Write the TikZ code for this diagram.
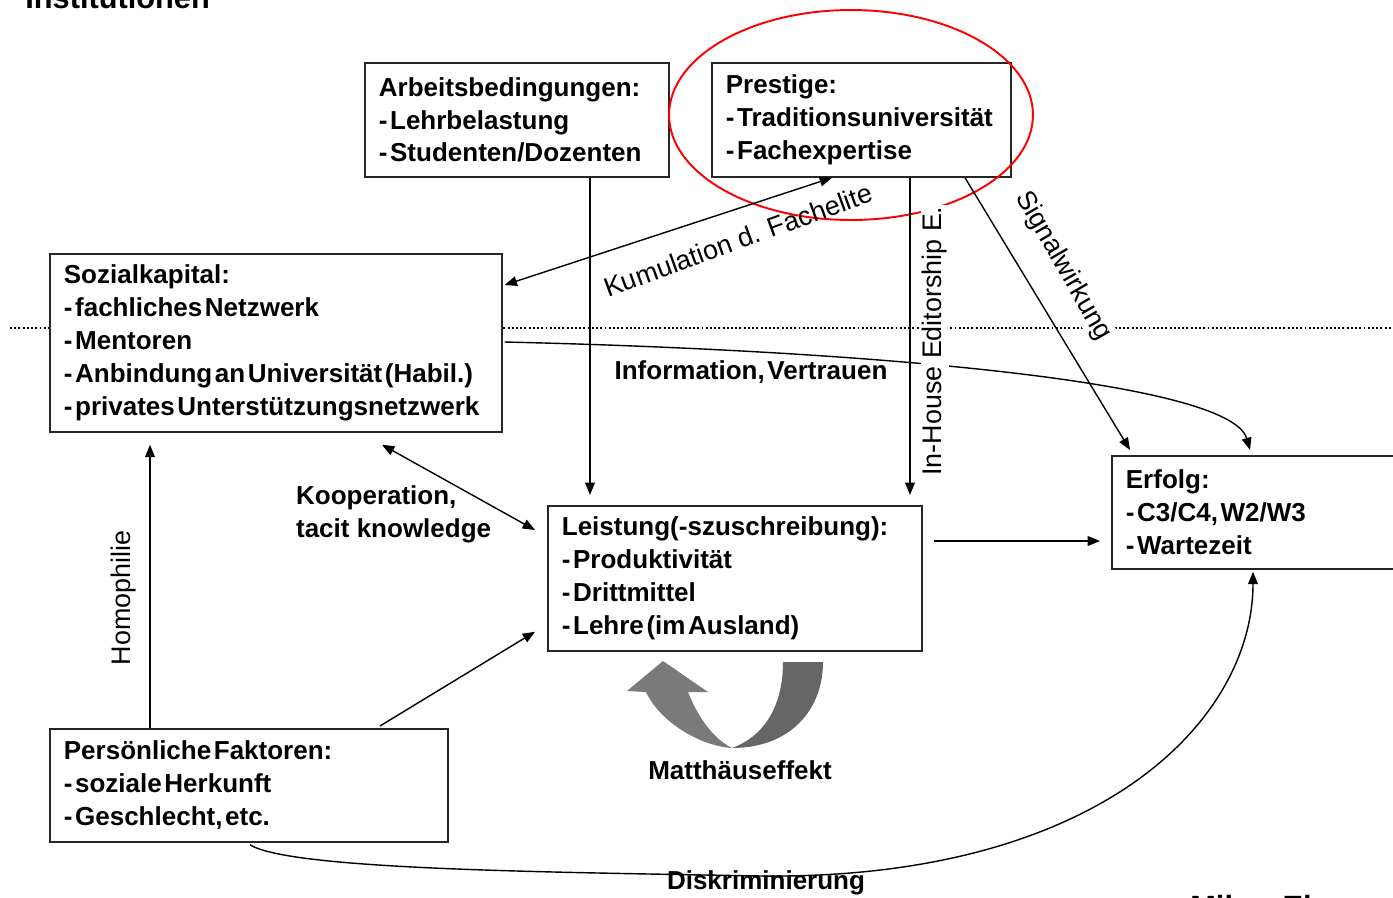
\documentclass[tikz,border=0pt]{standalone}
\usepackage{fontspec}
\setmainfont{Liberation Sans}
\usetikzlibrary{arrows.meta,calc}
\newcommand\bxfont{\fontsize{14.8}{18.7}\selectfont\bfseries}
\newcommand\lblfont{\fontsize{15.3}{18.7}\selectfont}
\newcommand\tsp{\spaceskip=0.1em plus 0.03em\relax\hyphenpenalty=10000\relax}
\newcommand\bxline[1]{\mbox{#1}}
\tikzset{
  box/.style={draw=black!85, line width=1pt, fill=white, anchor=north west, align=left,
              inner xsep=0.28cm, inner ysep=0pt, font=\bxfont},
  arr/.style={line width=0.8pt, -{Triangle[length=7pt,width=5.5pt]}},
  darr/.style={line width=0.8pt, {Triangle[length=7pt,width=5.5pt]}-{Triangle[length=7pt,width=5.5pt]}},
  lbl/.style={font=\lblfont, inner sep=1pt},
  blbl/.style={font=\bxfont, inner sep=1pt},
  dotline/.style={line width=1pt, dash pattern=on 1.1pt off 1.3pt},
}
\begin{document}
\begin{tikzpicture}[x=0.02cm, y=-0.02cm]
\useasboundingbox (0,0) rectangle (1393,897);

% partial captions at the edges
\node[anchor=base west, inner sep=0pt, font=\fontsize{17.5}{20}\selectfont\bfseries] (inst) at (25,8) {Institutionen};
\node[anchor=base west, inner sep=0pt, font=\fontsize{17.5}{20}\selectfont\bfseries] (mikro) at (1190,917) {Mikro-Ebene};

% dotted level separator
\draw[dotline] (10,328) -- (1393,328);

% boxes
\node[box, text width=5.52cm, minimum height=2.28cm] (arb) at (364,62)
  {\tsp\bxline{Arbeitsbedingungen:}\\\bxline{- Lehrbelastung}\\\bxline{- Studenten/Dozenten}};
\node[box, text width=5.42cm, minimum height=2.28cm] (prest) at (711,62)
  {\tsp\bxline{Prestige:}\\\bxline{- Traditionsuniversität}\\\bxline{- Fachexpertise}};
\node[box, text width=8.48cm, minimum height=3.56cm] (soz) at (49,253)
  {\tsp\bxline{Sozialkapital:}\\\bxline{- fachliches Netzwerk}\\\bxline{- Mentoren}\\\bxline{- Anbindung an Universität (Habil.)}\\\bxline{- privates Unterstützungsnetzwerk}};
\node[box, text width=6.92cm, minimum height=2.9cm] (leist) at (547,505)
  {\tsp\bxline{Leistung(-szuschreibung):}\\\bxline{- Produktivität}\\\bxline{- Drittmittel}\\\bxline{- Lehre (im Ausland)}};
\node[box, text width=6.02cm, minimum height=2.26cm] (erf) at (1111,455)
  {\tsp\bxline{Erfolg:}\\\bxline{- C3/C4, W2/W3}\\\bxline{- Wartezeit}};
\node[box, text width=7.4cm, minimum height=2.26cm] (pers) at (49,728)
  {\tsp\bxline{Persönliche Faktoren:}\\\bxline{- soziale Herkunft}\\\bxline{- Geschlecht, etc.}};

% red highlight
\draw[red, line width=1.1pt] (851,115) ellipse [x radius=3.64cm, y radius=2.1cm];

% connectors
\draw[arr] ($(arb.south west)+(226,0)$) -- ($(leist.north west)+(43,-10)$);
\draw[arr] ($(soz.north east)+(2,89)$) .. controls (850,350) and (1230,380) .. ($(erf.north west)+(139,-5)$);
\draw[arr] ($(prest.south west)+(199,0)$) -- ($(leist.north west)+(363,-10)$);
\draw[arr] ($(prest.south west)+(254,0)$) -- ($(erf.north west)+(19,-5)$);
\draw[darr] ($(soz.north east)+(2,32)$) -- ($(prest.south west)+(121,0)$);
\draw[darr] ($(soz.south west)+(333,12)$) -- ($(leist.north west)+(-12,25)$);
\draw[arr] ($(pers.north west)+(331,-2)$) -- ($(leist.south west)+(-12,-20)$);
\draw[arr] ($(pers.north west)+(101,0)$) -- ($(soz.south west)+(101,12)$);
\draw[arr] ($(leist.north east)+(11,36)$) -- ($(erf.north west)+(-11,86)$);
\draw[arr] ($(pers.south west)+(201,2)$) .. controls (290,870) and (550,872) .. (760,876)
  .. controls (1100,880) and (1253,720) .. ($(erf.south west)+(142,2)$);

% labels
\node[lbl, fill=white, rotate=90] (lEdit) at (935,341) {In-House Editorship E.};
\node[lbl, fill=white, rotate=-60] (lSig) at (1063,266) {Signalwirkung};
\node[lbl, rotate=20] (lKum) at (738,240) {Kumulation d. Fachelite};
\node[blbl] (lInfo) at (751,372) {\tsp Information, Vertrauen};
\node[blbl, align=left, anchor=west] (lKoop) at (294,514) {\tsp Kooperation,\\tacit knowledge};
\node[lbl, rotate=90] (lHom) at (124,598) {Homophilie};
\node[blbl] (lMat) at (740,770) {Matthäuseffekt};
\node[blbl] (lDis) at (766,883) {Diskriminierung};

% Matthaeus effect arrow
\fill[black!60] (783,662) -- (823,662) .. controls (823,710) and (790,748) .. (732,748)
  .. controls (765,736) and (783,705) .. (783,662) -- cycle;
\fill[black!52] (732,748) .. controls (700,746) and (660,722) .. (646,692) -- (627,691)
  -- (663,661) -- (708,692) -- (688,692) .. controls (697,715) and (712,738) .. (732,748) -- cycle;
\end{tikzpicture}
\end{document}
